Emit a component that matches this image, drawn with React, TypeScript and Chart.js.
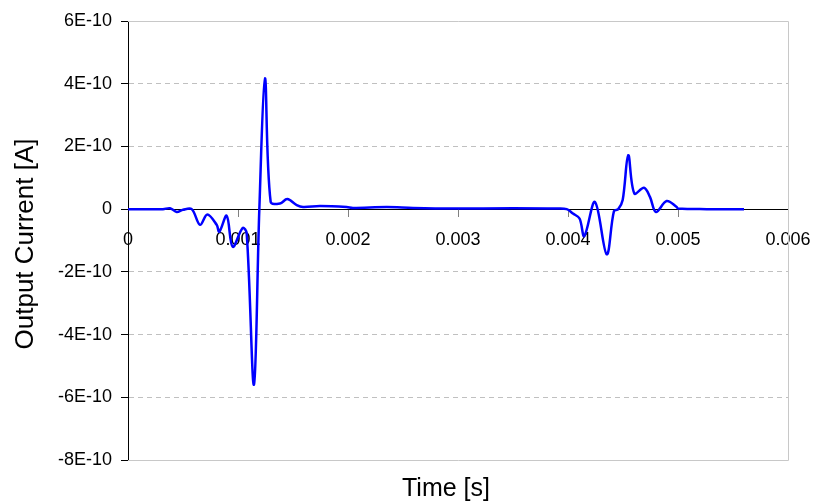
import React, { useEffect, useRef } from "react";
import { Chart, registerables } from "chart.js";

Chart.register(...registerables);

// Time samples [s]
const timeS: number[] = [
  0, 0.000318, 0.000382, 0.000443, 0.0005, 0.000579, 0.000655, 0.000721,
  0.000806, 0.00083, 0.000897, 0.000952, 0.001043, 0.001079, 0.001145,
  0.001194, 0.001245, 0.001297, 0.001382, 0.001448, 0.001534, 0.001591,
  0.001745, 0.001988, 0.002045, 0.002352, 0.002591, 0.002955, 0.0035,
  0.003897, 0.003988, 0.004045, 0.004105, 0.004148, 0.004245, 0.004352,
  0.004418, 0.004457, 0.004497, 0.004548, 0.004603, 0.004691, 0.004745,
  0.0048, 0.004897, 0.004988, 0.005, 0.005261, 0.0056,
];

// Output current [A]
const currentA: number[] = [
  0, 0, 0.03e-10, -0.09e-10, -0.02e-10, 0, -0.5e-10, -0.17e-10,
  -0.5e-10, -0.72e-10, -0.21e-10, -1.2e-10, -0.6e-10, -0.77e-10, -5.6e-10,
  0, 4.17e-10, 0.23e-10, 0.18e-10, 0.32e-10, 0.13e-10, 0.07e-10,
  0.1e-10, 0.07e-10, 0.04e-10, 0.07e-10, 0.04e-10, 0.02e-10, 0.03e-10,
  0.02e-10, 0, -0.14e-10, -0.3e-10, -0.86e-10, 0.23e-10, -1.44e-10,
  -0.06e-10, 0, 0.29e-10, 1.72e-10, 0.5e-10, 0.68e-10, 0.39e-10,
  -0.09e-10, 0.26e-10, 0.07e-10, 0.02e-10, 0, 0,
];

const xTickMin = 0;
const xTickMax = 0.006;
const xTickStep = 0.001;
const yTickMin = -8e-10;
const yTickMax = 6e-10;
const yTickStep = 2e-10;

const xTitle = "Time [s]";
const yTitle = "Output Current [A]";

const FONT = "'Liberation Sans', Arial, sans-serif";

const framePlugin = {
  id: "frame",
  beforeDatasetsDraw(chart: any) {
    const { ctx, chartArea } = chart;
    const { left, right, top, bottom } = chartArea;
    ctx.save();
    ctx.strokeStyle = "#c8c8c8";
    ctx.lineWidth = 1;
    ctx.beginPath();
    ctx.moveTo(left, Math.round(top) + 0.5);
    ctx.lineTo(Math.round(right) + 0.5, Math.round(top) + 0.5);
    ctx.lineTo(Math.round(right) + 0.5, Math.round(bottom) + 0.5);
    ctx.lineTo(left, Math.round(bottom) + 0.5);
    ctx.stroke();
    ctx.restore();
  },
  afterDraw(chart: any) {
    const { ctx } = chart;
    ctx.save();
    ctx.fillStyle = "#000";
    ctx.font = `25px ${FONT}`;
    ctx.textAlign = "center";
    ctx.textBaseline = "alphabetic";
    ctx.fillText(xTitle, 446, 496);
    ctx.font = `26px ${FONT}`;
    ctx.translate(26, 244);
    ctx.rotate(-Math.PI / 2);
    ctx.textBaseline = "middle";
    ctx.fillText(yTitle, 0, 0);
    ctx.restore();
  },
};

export default function App() {
  const ref = useRef<HTMLCanvasElement | null>(null);

  useEffect(() => {
    if (!ref.current) return;
    const points = timeS.map((t, i) => ({ x: t, y: currentA[i] }));
    const chart = new Chart(ref.current, {
      type: "line",
      data: {
        datasets: [
          {
            data: points,
            borderColor: "#0000ff",
            borderWidth: 2.5,
            pointRadius: 0,
            tension: 0.35,
            fill: false,
          },
        ],
      },
      options: {
        animation: false,
        responsive: false,
        devicePixelRatio: 1,
        layout: { padding: { left: 0, right: 26, top: 21, bottom: 43 } },
        plugins: {
          legend: { display: false },
          tooltip: { enabled: false },
        },
        scales: {
          x: {
            type: "linear",
            position: { y: 0 } as any,
            min: xTickMin,
            max: xTickMax,
            afterFit(scale: any) {
              scale.paddingLeft = 0;
              scale.paddingRight = 0;
            },
            ticks: {
              stepSize: xTickStep,
              autoSkip: false,
              maxRotation: 0,
              padding: 0,
              color: "#000",
              font: { family: FONT, size: 18, lineHeight: 2.6 },
              callback: (v: any) => (Number(v) === 0 ? "0" : Number(v).toFixed(3)),
            },
            grid: {
              drawOnChartArea: false,
              drawTicks: true,
              tickLength: 7,
              tickColor: "#808080",
            },
            border: { display: true, color: "#000", width: 1 },
          },
          y: {
            type: "linear",
            position: "left",
            min: yTickMin,
            max: yTickMax,
            afterFit(scale: any) {
              scale.width = 128;
            },
            ticks: {
              stepSize: yTickStep,
              padding: 9,
              color: "#000",
              font: { family: FONT, size: 18 },
              callback: (v: any) => {
                const n = Math.round(Number(v) / 1e-10);
                return n === 0 ? "0" : `${n}E-10`;
              },
            },
            grid: {
              color: "#c0c0c0",
              lineWidth: 1,
              drawTicks: true,
              tickLength: 7,
              tickColor: "#000",
            },
            border: { display: true, color: "#000", width: 1, dash: [5, 4] },
          },
        },
      },
      plugins: [framePlugin],
    });
    return () => chart.destroy();
  }, []);

  return (
    <div style={{ position: "absolute", left: 0, top: 0, width: 814, height: 503, background: "#fff" }}>
      <canvas ref={ref} width={814} height={503} style={{ display: "block" }} />
    </div>
  );
}
